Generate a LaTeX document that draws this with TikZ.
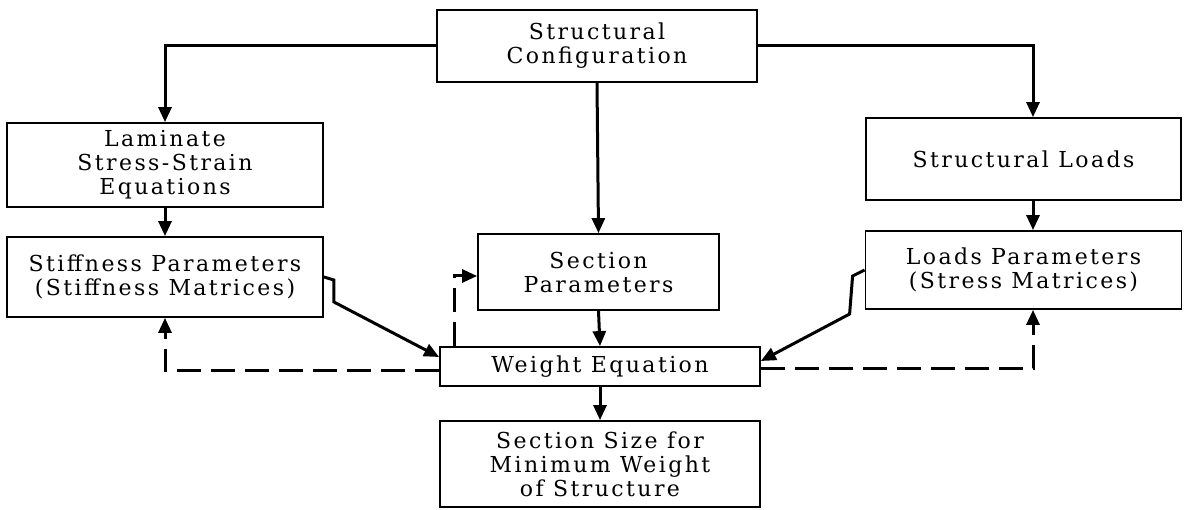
\documentclass[tikz,border=0pt]{standalone}
\usepackage{fontspec}
\setmainfont{DejaVu Serif}[LetterSpace=11]
\usepackage{tikz}
\usetikzlibrary{arrows.meta, positioning, calc}

\begin{document}
\begin{tikzpicture}[x=1pt,y=1pt,>={Triangle[length=15pt,width=13pt]},
    block/.style={draw, line width=1.8pt, inner sep=0pt, align=center,
        font=\fontsize{22}{24}\selectfont},
    flow/.style={->, line width=3pt},
    back/.style={->, line width=3pt, dash pattern=on 24pt off 10pt}]

            \useasboundingbox (0,0) rectangle (1189,509);

            \def\shift{9.5pt}

            \node[block, minimum width=320pt, minimum height=72pt] (1) at (597,463) {Structural\\Configuration};
            \node[block, minimum width=316pt, minimum height=84pt] (2) at (165,344) {Laminate\\Stress-Strain\\Equations};
            \node[block, minimum width=316pt, minimum height=80pt] (3) at (165,232) {Stiffness Parameters\\(Stiffness Matrices)};
            \node[block, minimum width=241pt, minimum height=76pt] (4) at (598.5,237) {Section\\Parameters};
            \node[block, minimum width=315pt, minimum height=82pt] (5) at (1023.5,350) {Structural Loads};
            \node[block, minimum width=316pt, minimum height=78pt] (6) at (1023.5,239) {Loads Parameters\\(Stress Matrices)};
            \node[block, minimum width=320pt, minimum height=39pt] (7) at (600,142.5) {Weight Equation};
            \node[block, minimum width=320pt, minimum height=86pt] (8) at (600,45) {Section Size for\\Minimum Weight\\of Structure};

            \draw[flow] (1.west) -| (2.north);
            \draw[flow] (1.east) -| ([xshift=\shift]5.north);
            \draw[flow] (1.south) -- (4.north);
            \draw[flow] (2.south) -- (3.north);
            \draw[flow] ([xshift=\shift]5.south) -- ([xshift=\shift]6.north);
            \draw[flow] (4.south) -- (7.north);
            \draw[flow] (7.south) -- (8.north);

            \draw[flow] (3.east) -- ++(10,-3) -- ++(0,-22) -- ([yshift=9.5pt]7.west);
            \draw[flow] (6.west) -- ++(-12,-6) -- ++(-3,-38) -- ([yshift=5.5pt]7.east);

            \draw[back] ([yshift=-4.5pt]7.west) -| (3.south);
            \draw[back] ([yshift=-2.5pt]7.east) -| ([xshift=\shift]6.south);
            \draw[back] ([xshift=-146pt]7.north) |- ([yshift=-4pt]4.west);

        \end{tikzpicture}
\end{document}
